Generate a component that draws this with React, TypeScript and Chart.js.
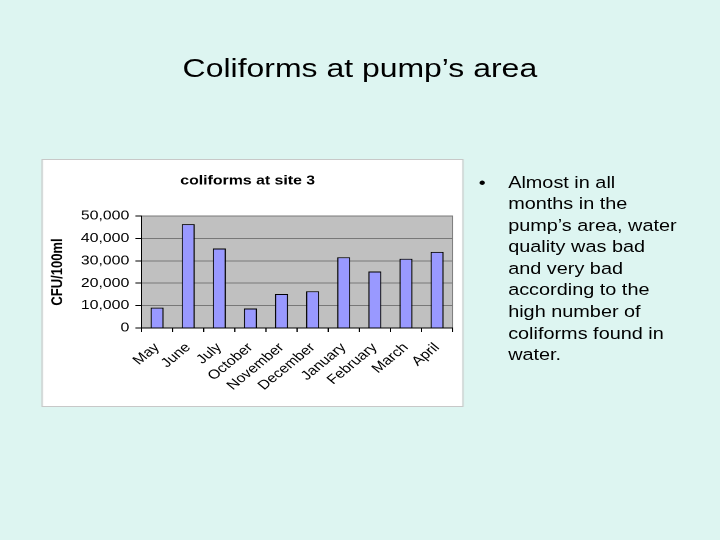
import React, { useEffect, useRef } from "react";
import { Chart, registerables } from "chart.js";

Chart.register(...registerables);

const months = ["May", "June", "July", "October", "November", "December", "January", "February", "March", "April"];
const cfuValues = [9100, 46400, 35500, 8700, 15200, 16400, 31600, 25200, 30900, 34000];
const yTicks = [0, 10000, 20000, 30000, 40000, 50000];
const chartTitle = "coliforms at site 3";
const yAxisTitle = "CFU/100ml";
const slideTitle = "Coliforms at pump\u2019s area";
const bulletLines = [
  "Almost in all",
  "months in the",
  "pump\u2019s area, water",
  "quality was bad",
  "and very bad",
  "according to the",
  "high number of",
  "coliforms found in",
  "water.",
];

const FONT = '"Liberation Sans", Arial, sans-serif';
const SX = 1.22;

const plotBg = {
  id: "plotBg",
  beforeDraw(chart: any) {
    const { ctx, chartArea } = chart;
    if (!chartArea) return;
    ctx.save();
    ctx.fillStyle = "#c0c0c0";
    ctx.fillRect(chartArea.left, chartArea.top, chartArea.right - chartArea.left, chartArea.bottom - chartArea.top);
    ctx.strokeStyle = "#808080";
    ctx.lineWidth = 1;
    ctx.strokeRect(chartArea.left, chartArea.top, chartArea.right - chartArea.left, chartArea.bottom - chartArea.top);
    ctx.restore();
  },
};

function ColiformChart() {
  const ref = useRef<HTMLCanvasElement | null>(null);
  useEffect(() => {
    if (!ref.current) return;
    const chart = new Chart(ref.current, {
      type: "bar",
      data: {
        labels: months,
        datasets: [
          {
            data: cfuValues,
            backgroundColor: "#9999ff",
            borderColor: "#000000",
            borderWidth: 1,
            barPercentage: 0.42,
            categoryPercentage: 1,
          },
        ],
      },
      plugins: [plotBg],
      options: {
        animation: false,
        responsive: true,
        maintainAspectRatio: false,
        devicePixelRatio: 2,
        layout: { padding: { left: 0, right: 8, top: 0, bottom: 0 } },
        plugins: {
          legend: { display: false },
          tooltip: { enabled: false },
          title: {
            display: true,
            text: chartTitle,
            color: "#000",
            font: { family: FONT, size: 13, weight: "bold" },
            padding: { top: 13, bottom: 27.4 },
          },
        },
        scales: {
          x: {
            grid: {
              display: true,
              drawOnChartArea: false,
              drawTicks: true,
              tickLength: 4,
              tickColor: "#000",
              offset: true,
            },
            border: { display: true, color: "#000", width: 1 },
            ticks: {
              color: "#000",
              font: { family: FONT, size: 13 },
              maxRotation: 45,
              minRotation: 45,
              autoSkip: false,
              padding: 8,
            },
            afterFit(scale: any) {
              scale.height = 78;
            },
          },
          y: {
            min: 0,
            max: 50000,
            afterBuildTicks(scale: any) {
              scale.ticks = yTicks.map((v) => ({ value: v }));
            },
            grid: {
              color: "#787878",
              lineWidth: 1,
              drawTicks: true,
              tickLength: 5,
              tickColor: "#000",
            },
            border: { display: true, color: "#000", width: 1 },
            ticks: {
              color: "#000",
              font: { family: FONT, size: 13 },
              padding: 5,
              callback: (v: any) => Number(v).toLocaleString("en-US"),
            },
            title: {
              display: true,
              text: yAxisTitle,
              color: "#000",
              font: { family: FONT, size: 13, weight: "bold" },
              padding: { top: 4.5, bottom: 0 },
            },
            afterFit(scale: any) {
              scale.width = 81;
            },
          },
        },
      },
    });
    return () => chart.destroy();
  }, []);
  return <canvas ref={ref} />;
}

export default function App() {
  return (
    <div
      style={{
        position: "fixed",
        left: 0,
        top: 0,
        width: 720,
        height: 540,
        background: "#ddf5f1",
        overflow: "hidden",
      }}
    >
      <div
        style={{
          position: "absolute",
          left: 0,
          top: 0,
          width: 590,
          height: 540,
          transform: `scaleX(${SX})`,
          transformOrigin: "0 0",
          fontFamily: FONT,
          color: "#000",
        }}
      >
        <div
          style={{
            position: "absolute",
            left: 0,
            top: 53,
            width: 590,
            textAlign: "center",
            fontSize: 26.2,
            lineHeight: "30px",
            whiteSpace: "nowrap",
          }}
        >
          {slideTitle}
        </div>
        <div
          style={{
            position: "absolute",
            left: 35.2,
            top: 160,
            width: 344,
            height: 246,
            background: "#ffffff",
            outline: "1px solid #c8c8c8",
          }}
        >
          <ColiformChart />
        </div>
        <div
          style={{
            position: "absolute",
            left: 392.5,
            top: 171.5,
            fontSize: 16.3,
            lineHeight: "21.6px",
            whiteSpace: "nowrap",
          }}
        >
          <div style={{ position: "absolute", left: 0, top: 0 }}>{"\u2022"}</div>
          <div style={{ position: "absolute", left: 24, top: 0 }}>
            {bulletLines.map((l, i) => (
              <div key={i}>{l}</div>
            ))}
          </div>
        </div>
      </div>
    </div>
  );
}
